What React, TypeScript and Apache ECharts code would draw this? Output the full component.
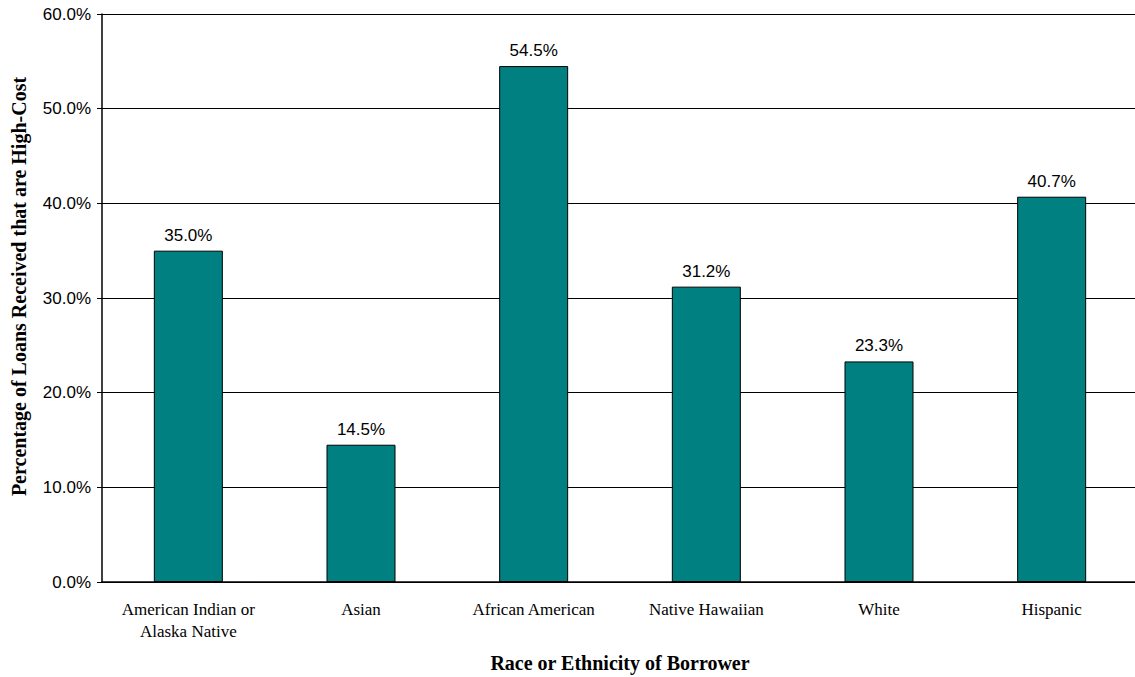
import React, { useEffect, useRef } from "react";
import * as echarts from "echarts";

const categories = [
  "American Indian or\nAlaska Native",
  "Asian",
  "African American",
  "Native Hawaiian",
  "White",
  "Hispanic",
];
const highCostShare = [35.0, 14.5, 54.5, 31.2, 23.3, 40.7];
const yTicks = { min: 0, max: 60, interval: 10 };

const serif = "'Liberation Serif', 'Times New Roman', serif";
const sans = "'Liberation Sans', Arial, sans-serif";

export default function App() {
  const ref = useRef<HTMLDivElement>(null);

  useEffect(() => {
    document.body.style.margin = "0";
    if (!ref.current) return;
    const chart = echarts.init(ref.current, undefined, { renderer: "svg" });
    chart.setOption({
      animation: false,
      backgroundColor: "#ffffff",
      grid: {
        left: 102,
        top: 14,
        right: -3,
        bottom: 95,
        containLabel: false,
        outerBoundsMode: "none",
      },
      xAxis: {
        type: "category",
        data: categories,
        name: "Race or Ethnicity of Borrower",
        nameLocation: "middle",
        nameGap: 71,
        nameTextStyle: { fontFamily: serif, fontWeight: "bold", fontSize: 20, color: "#000" },
        axisLine: { lineStyle: { color: "#000", width: 1.5 } },
        axisTick: { show: false },
        axisLabel: {
          fontFamily: serif,
          fontSize: 17,
          color: "#000",
          margin: 16,
          lineHeight: 22,
          interval: 0,
        },
      },
      yAxis: {
        type: "value",
        min: yTicks.min,
        max: yTicks.max,
        interval: yTicks.interval,
        name: "Percentage of Loans Received that are High-Cost",
        nameLocation: "middle",
        nameGap: 73,
        nameTextStyle: {
          fontFamily: serif,
          fontWeight: "bold",
          fontSize: 20,
          color: "#000",
          padding: [0, 0, 0, 23],
        },
        axisLine: { show: true, lineStyle: { color: "#000", width: 1.5 } },
        axisTick: { show: true, length: 5, lineStyle: { color: "#000" } },
        axisLabel: {
          fontFamily: sans,
          fontSize: 17,
          color: "#000",
          margin: 11,
          formatter: (v: number) => v.toFixed(1) + "%",
        },
        splitLine: { show: true, lineStyle: { color: "#000", width: 1 } },
      },
      series: [
        {
          type: "bar",
          data: highCostShare,
          barWidth: 69,
          itemStyle: { color: "#008080", borderColor: "#000", borderWidth: 1 },
          label: {
            show: true,
            position: "top",
            distance: 7,
            fontFamily: sans,
            fontSize: 17,
            color: "#000",
            formatter: (p: any) => Number(p.value).toFixed(1) + "%",
          },
        },
      ],
    });
    return () => chart.dispose();
  }, []);

  return <div ref={ref} style={{ width: 1135, height: 677 }} />;
}
